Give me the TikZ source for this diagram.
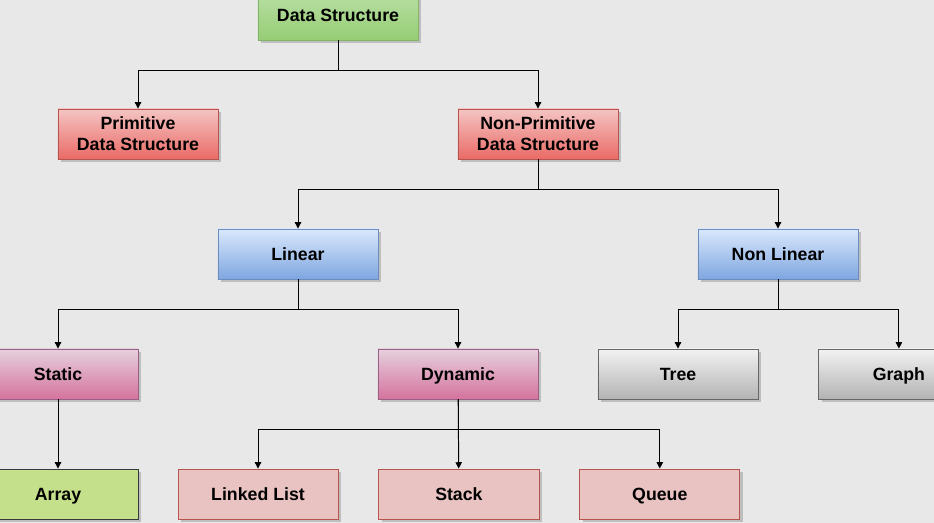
\documentclass[tikz,border=0pt]{standalone}
\usepackage{fontspec}
\setmainfont{Liberation Sans}
\usepackage{tikz}
\usetikzlibrary{positioning, arrows.meta, shadows}
\definecolor{bgGray}{HTML}{E8E8E9}
\definecolor{dsTop}{HTML}{B9E0A5}
\definecolor{dsBot}{HTML}{97CD75}
\definecolor{dsB}{HTML}{82B366}
\definecolor{redTop}{HTML}{F4C4C3}
\definecolor{redBot}{HTML}{EA6B66}
\definecolor{redB}{HTML}{B85450}
\definecolor{bluTop}{HTML}{DAE8FC}
\definecolor{bluBot}{HTML}{7EA6E0}
\definecolor{bluB}{HTML}{6C8EBF}
\definecolor{pnkTop}{HTML}{E6D0DE}
\definecolor{pnkBot}{HTML}{D5739D}
\definecolor{pnkB}{HTML}{996185}
\definecolor{gryTop}{HTML}{F2F2F2}
\definecolor{gryBot}{HTML}{B3B3B3}
\definecolor{gryB}{HTML}{666666}
\definecolor{arrFill}{HTML}{C5E08A}
\definecolor{arrB}{HTML}{36393D}
\definecolor{leafFill}{HTML}{E8C3C2}

\begin{document}
\begin{tikzpicture}[x=0.025cm, y=-0.025cm, box/.style={draw, line width=0.6pt, minimum width=4cm, minimum height=1.25cm, align=center, inner sep=0pt, font=\fontsize{12.6}{15}\selectfont\bfseries, drop shadow={shadow xshift=2pt, shadow yshift=-2pt, opacity=0.18, fill=black}},sgl/.style={box, text height=11.5pt, text depth=2.5pt},grad/.style 2 args={top color=#1, bottom color=#2},link/.style={draw, line width=0.7pt, -{Triangle[length=4.5pt, width=4.5pt]}}]
\fill[bgGray] (0,0) rectangle (934,523);
\useasboundingbox (0,0) rectangle (934,523);
\node[sgl, grad={dsTop}{dsBot}, draw=dsB] (ds) at (338,15) {Data Structure};
\node[box, grad={redTop}{redBot}, draw=redB] (prim) at (138,134) {Primitive\\Data Structure};
\node[box, grad={redTop}{redBot}, draw=redB] (nonprim) at (538,134) {Non-Primitive\\Data Structure};
\node[sgl, grad={bluTop}{bluBot}, draw=bluB] (lin) at (298,254) {Linear};
\node[sgl, grad={bluTop}{bluBot}, draw=bluB] (nonlin) at (778,254) {Non Linear};
\node[sgl, grad={pnkTop}{pnkBot}, draw=pnkB] (stat) at (58,374) {Static};
\node[sgl, grad={pnkTop}{pnkBot}, draw=pnkB] (dyn) at (458,374) {Dynamic};
\node[sgl, grad={gryTop}{gryBot}, draw=gryB] (tree) at (678,374) {Tree};
\node[sgl, grad={gryTop}{gryBot}, draw=gryB, right=1.5cm of tree] (graph) {Graph};
\node[sgl, fill=arrFill, draw=arrB] (arr) at (58,494) {Array};
\node[sgl, fill=leafFill, draw=redB] (llist) at (258,494) {Linked List};
\node[sgl, fill=leafFill, draw=redB, right=1cm of llist] (stack) {Stack};
\node[sgl, fill=leafFill, draw=redB, right=1cm of stack] (queue) {Queue};
% tree connectors
\draw[link] (ds.south) -- ++(0,30) -| (prim); \draw[link] (ds.south) -- ++(0,30) -| (nonprim);
\draw[link] (nonprim.south) -- ++(0,30) -| (lin); \draw[link] (nonprim.south) -- ++(0,30) -| (nonlin);
\draw[link] (lin.south) -- ++(0,30) -| (stat); \draw[link] (lin.south) -- ++(0,30) -| (dyn);
\draw[link] (nonlin.south) -- ++(0,30) -| (tree); \draw[link] (nonlin.south) -- ++(0,30) -| (graph);
\draw[link] (stat) -- (arr);
\draw[link] (dyn.south) -- ++(0,30) -| (llist); \draw[link] (dyn) -- (stack); \draw[link] (dyn.south) -- ++(0,30) -| (queue);
\end{tikzpicture}
\end{document}
